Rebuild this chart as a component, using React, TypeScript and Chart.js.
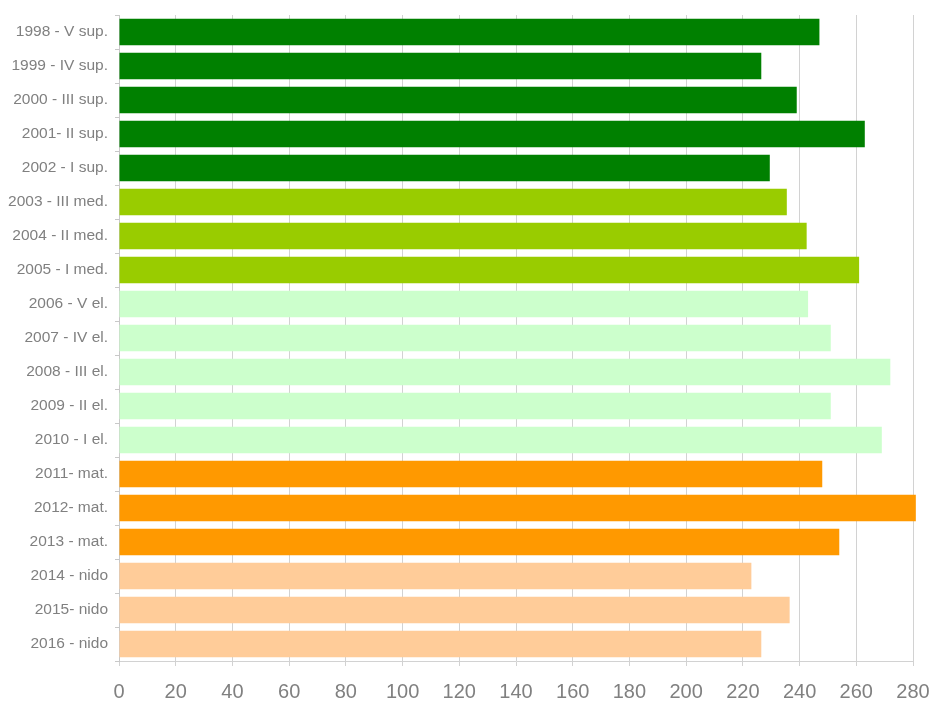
import React, { useEffect, useRef } from "react";
import { Chart, registerables } from "chart.js";

Chart.register(...registerables);

const categories: string[] = [
  "1998 - V sup.",
  "1999 - IV sup.",
  "2000 - III sup.",
  "2001- II sup.",
  "2002 - I sup.",
  "2003 - III med.",
  "2004 - II med.",
  "2005 - I med.",
  "2006 - V el.",
  "2007 - IV el.",
  "2008 - III el.",
  "2009 - II el.",
  "2010 - I el.",
  "2011- mat.",
  "2012- mat.",
  "2013 - mat.",
  "2014 - nido",
  "2015- nido",
  "2016 - nido",
];

const values: number[] = [
  247, 226.5, 239, 263, 229.5, 235.5, 242.5, 261, 243, 251, 272, 251, 269, 248,
  281, 254, 223, 236.5, 226.5,
];

// school-level groups: upper, middle, elementary, kindergarten, nursery
const groupColors: string[] = [
  "#008000", "#008000", "#008000", "#008000", "#008000",
  "#99cc00", "#99cc00", "#99cc00",
  "#ccffcc", "#ccffcc", "#ccffcc", "#ccffcc", "#ccffcc",
  "#ff9900", "#ff9900", "#ff9900",
  "#ffcc99", "#ffcc99", "#ffcc99",
];

const xMin = 0;
const xMax = 280;
const xStep = 20;

export default function App() {
  const canvasRef = useRef<HTMLCanvasElement | null>(null);

  useEffect(() => {
    if (!canvasRef.current) return;
    const chart = new Chart(canvasRef.current, {
      type: "bar",
      data: {
        labels: categories,
        datasets: [
          {
            data: values,
            backgroundColor: groupColors,
            borderWidth: 0,
            barPercentage: 0.78,
            categoryPercentage: 1,
            clip: 10,
          } as any,
        ],
      },
      options: {
        indexAxis: "y",
        animation: false,
        responsive: true,
        maintainAspectRatio: false,
        layout: { padding: { top: 15, right: 18, left: 0, bottom: 0 } },
        plugins: {
          legend: { display: false },
          tooltip: { enabled: false },
        },
        scales: {
          x: {
            min: xMin,
            max: xMax,
            ticks: {
              stepSize: xStep,
              color: "#808080",
              font: { family: "'Liberation Sans', Arial, sans-serif", size: 20 },
              padding: 14,
              maxRotation: 0,
            },
            grid: {
              color: "#d2d2d2",
              lineWidth: 1,
              tickLength: 5,
            },
            border: { color: "#d2d2d2" },
            afterFit: (scale: any) => {
              scale.height = 41;
              scale.paddingLeft = 0;
              scale.paddingRight = 0;
            },
          },
          y: {
            ticks: {
              color: "#808080",
              font: { family: "'Liberation Sans', Arial, sans-serif", size: 15.5 },
              padding: 7,
            },
            grid: {
              offset: true,
              drawOnChartArea: false,
              tickLength: 4,
              color: "#c8c8c8",
            },
            border: { color: "#c8c8c8" },
            afterFit: (scale: any) => {
              scale.width = 119;
              scale.paddingTop = 0;
              scale.paddingBottom = 0;
            },
          },
        },
      },
    });
    return () => chart.destroy();
  }, []);

  return (
    <div
      style={{
        position: "fixed",
        left: 0,
        top: 0,
        width: 931,
        height: 702,
        background: "#ffffff",
      }}
    >
      <canvas ref={canvasRef} />
    </div>
  );
}
